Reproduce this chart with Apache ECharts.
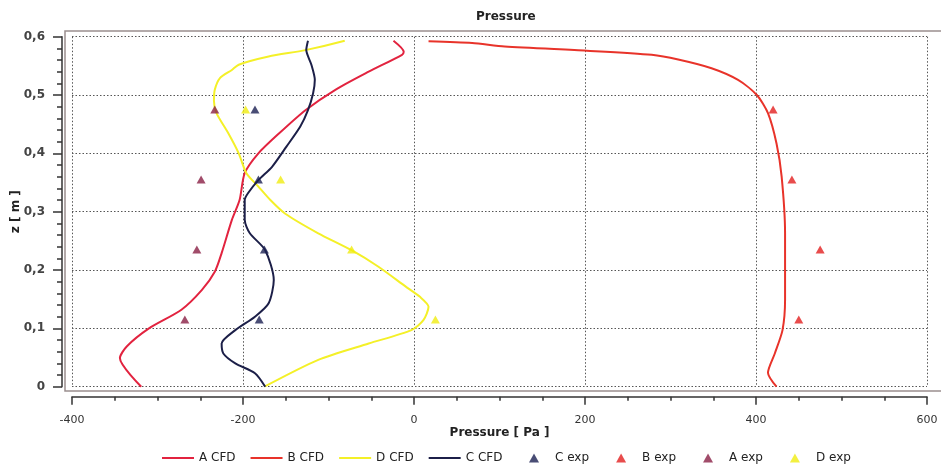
<!DOCTYPE html>
<html>
<head>
<meta charset="utf-8">
<script src="https://cdn.jsdelivr.net/npm/echarts@6/dist/echarts.min.js"></script>
<style>html,body{margin:0;padding:0;background:#fff;}#c{width:941px;height:470px;}</style>
</head>
<body>
<div id="c"></div>
<script>
// Pressure [Pa], z [m]
const aCfdP = [-319,-344,-336,-310,-272,-248,-233,-225,-213,-204,-198,-182,-158,-127,-92,-53,-14,-12,-24];
const aCfdZ = [0,0.049,0.069,0.1,0.132,0.166,0.197,0.229,0.286,0.32,0.366,0.40,0.434,0.474,0.509,0.54,0.569,0.574,0.593];
const bCfdP = [424,414,422,431,434,434,430,424,414,401,379,348,309,278,202,106,68,17];
const bCfdZ = [0,0.024,0.057,0.097,0.149,0.263,0.36,0.417,0.469,0.5,0.526,0.546,0.561,0.569,0.576,0.583,0.589,0.592];
const dCfdP = [-175,-112,-53,-3,11,17,7,-10,-42,-73,-112,-151,-168,-182,-196,-205,-217,-231,-234,-233,-227,-213,-205,-170,-127,-81];
const dCfdZ = [0,0.046,0.074,0.097,0.114,0.137,0.154,0.172,0.206,0.234,0.263,0.297,0.32,0.343,0.366,0.40,0.434,0.469,0.49,0.509,0.529,0.543,0.552,0.566,0.577,0.593];
const cCfdP = [-174,-186,-209,-223,-225,-209,-186,-170,-164,-174,-192,-198,-198,-194,-182,-166,-149,-133,-124,-118,-116,-120,-126,-124];
const cCfdZ = [0,0.023,0.04,0.057,0.074,0.097,0.12,0.143,0.183,0.234,0.263,0.286,0.32,0.332,0.354,0.377,0.412,0.446,0.474,0.503,0.526,0.552,0.577,0.593];
const expZ = [0.115,0.235,0.355,0.475];
const cExpP = [-181,-175,-182,-186];
const bExpP = [450,475,442,420];
const aExpP = [-268,-254,-249,-233];
const dExpP = [25,-73,-156,-197];
const xTicks = [-400,-200,0,200,400,600];
const yTicks = [0,0.1,0.2,0.3,0.4,0.5,0.6];
const cfdNames = ['A CFD','B CFD','D CFD','C CFD'];
const expNames = ['C exp','B exp','A exp','D exp'];

function zip(p, z){ return p.map((v,i)=>[v, z[i]]); }

const colors = {
  aCfd:'#e2233f', bCfd:'#e8332a', dCfd:'#f4f028', cCfd:'#1c1f48',
  cExp:'#1c2052', bExp:'#e21f1f', aExp:'#8a1f45', dExp:'#f0ec10'
};
const font = 'DejaVu Sans';
const lineIcon = 'path://M0,0 L32,0 L32,2 L0,2 Z';
const triIcon = 'path://M5,0 L10,9 L0,9 Z';

function lineS(name, data, color){
  return {name, type:'line', data, symbol:'none', smooth:0.25,
    lineStyle:{color, width:2}, itemStyle:{color}, z:3};
}
function scatS(name, data, color){
  return {name, type:'scatter', data, symbol:'triangle', symbolSize:[9,8],
    itemStyle:{color}, z:4};
}
const legendText = {fontFamily:font, fontSize:12, color:'#222'};

const chart = echarts.init(document.getElementById('c'), null, {renderer:'canvas'});
chart.setOption({
  animation:false,
  backgroundColor:'#fff',
  title:{text:'Pressure', left:476, top:11, padding:0,
    textStyle:{fontFamily:font, fontSize:12, fontWeight:'bold', color:'#222'}},
  grid:{left:72, right:14, top:36.7, bottom:83.3, containLabel:false, outerBoundsMode:'none'},
  graphic:[{type:'rect', shape:{x:65, y:31, width:890, height:360},
    style:{fill:'none', stroke:'#9a8f8f', lineWidth:1.5}, z:0}],
  legend:[
    {left:162, top:452, padding:0, itemWidth:32, itemHeight:9, itemGap:15, textStyle:legendText,
      data: cfdNames.map(n=>({name:n, icon:lineIcon}))},
    {left:529, top:452, padding:0, itemWidth:32, itemHeight:9, itemGap:27, textStyle:legendText,
      data: expNames.map(n=>({name:n, icon:triIcon}))}
  ],
  xAxis:{type:'value', min:xTicks[0], max:xTicks[xTicks.length-1], interval:200, offset:10,
    name:'Pressure [ Pa ]', nameLocation:'middle', nameGap:30, nameMoveOverlap:false,
    nameTextStyle:{fontFamily:font, fontSize:12, fontWeight:'bold', color:'#222'},
    axisLine:{show:true, onZero:false, lineStyle:{color:'#333', width:1.5}},
    axisTick:{show:true, inside:false, length:8, lineStyle:{color:'#333', width:1.5}},
    minorTick:{show:true, splitNumber:4, length:4, lineStyle:{color:'#333', width:1.5}},
    axisLabel:{margin:18, fontFamily:font, fontSize:11, color:'#333'},
    splitLine:{show:true, lineStyle:{color:'#555', type:[1.5,2], width:1}}},
  yAxis:{type:'value', min:yTicks[0], max:yTicks[yTicks.length-1], interval:0.1, offset:10,
    name:'z [ m ]', nameLocation:'middle', nameGap:40, nameMoveOverlap:false,
    nameTextStyle:{fontFamily:font, fontSize:12, fontWeight:'bold', color:'#222'},
    axisLine:{show:true, onZero:false, lineStyle:{color:'#333', width:1.5}},
    axisTick:{show:true, inside:false, length:9, lineStyle:{color:'#333', width:1.5}},
    minorTick:{show:true, splitNumber:5, length:5, lineStyle:{color:'#333', width:1.5}},
    axisLabel:{margin:17, fontFamily:font, fontSize:12, fontWeight:'bold', color:'#444',
      formatter:v=> v===0 ? '0' : v.toFixed(1).replace('.', ',')},
    splitLine:{show:true, lineStyle:{color:'#555', type:[1.5,2], width:1}}},
  series:[
    lineS('A CFD', zip(aCfdP,aCfdZ), colors.aCfd),
    lineS('B CFD', zip(bCfdP,bCfdZ), colors.bCfd),
    lineS('D CFD', zip(dCfdP,dCfdZ), colors.dCfd),
    lineS('C CFD', zip(cCfdP,cCfdZ), colors.cCfd),
    scatS('C exp', zip(cExpP,expZ), colors.cExp),
    scatS('B exp', zip(bExpP,expZ), colors.bExp),
    scatS('A exp', zip(aExpP,expZ), colors.aExp),
    scatS('D exp', zip(dExpP,expZ), colors.dExp)
  ]
});
</script>
</body>
</html>
